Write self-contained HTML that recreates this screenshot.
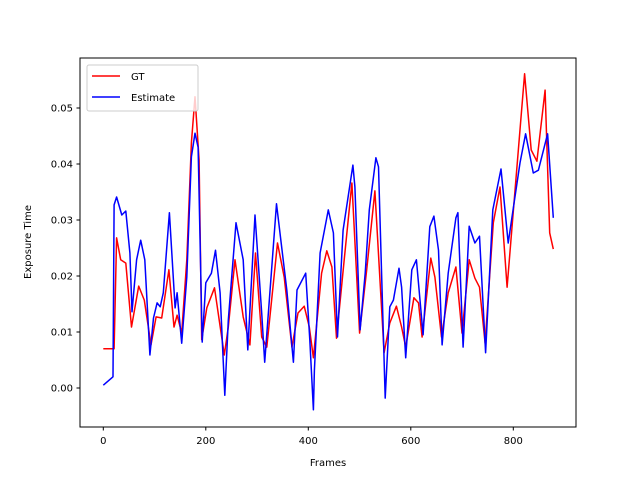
<!DOCTYPE html>
<html><head><meta charset="utf-8"><style>
body{margin:0;background:#fff;font-family:"Liberation Sans","DejaVu Sans",sans-serif}
svg text{font-family:"DejaVu Sans","Liberation Sans",sans-serif;font-size:10px}
</style></head><body>
<svg id="chart" width="640" height="480" viewBox="0 0 640 480" xmlns="http://www.w3.org/2000/svg">
<rect width="640" height="480" fill="#fff"/>
<g id="series"></g>
<rect x="80" y="58" width="496" height="369" fill="none" stroke="#000" stroke-width="1"/>
<g id="axes"></g>
<text x="328" y="466" text-anchor="middle">Frames</text>
<text x="31" y="242" text-anchor="middle" transform="rotate(-90 31 242)">Exposure Time</text>
<g>
<rect x="87" y="65" width="111" height="46" rx="2" fill="#fff" fill-opacity="0.8" stroke="#ccc"/>
<line x1="92" y1="76" x2="120" y2="76" stroke="#f00" stroke-width="1.5"/>
<text x="131" y="80">GT</text>
<line x1="92" y1="97" x2="120" y2="97" stroke="#00f" stroke-width="1.5"/>
<text x="131" y="101">Estimate</text>
</g>
</svg>
<script>
const gtFrames=[0,20,21,26,34,44,55,69,80,93,103,114,128,138,144,153,163,172,179,187,192,202,217,236,244,257,273,286,297,309,319,340,353,368,380,392,402,410,426,436,446,455,470,485,500,514,530,548,559,572,582,590,606,615,622,639,647,660,673,688,700,714,725,734,745,761,774,788,803,822,835,846,862,871,878];
const gtValues=[0.0070,0.0070,0.0070,0.0268,0.0229,0.0223,0.0109,0.0182,0.0157,0.0077,0.0127,0.0125,0.0211,0.0109,0.0130,0.0098,0.0229,0.0438,0.0520,0.0407,0.0086,0.0143,0.0179,0.0059,0.0109,0.0229,0.0127,0.0077,0.0241,0.0091,0.0073,0.0259,0.0198,0.0073,0.0134,0.0146,0.0109,0.0054,0.0205,0.0245,0.0216,0.0089,0.0229,0.0366,0.0098,0.0211,0.0352,0.0063,0.0116,0.0146,0.0109,0.0073,0.0161,0.0152,0.0091,0.0232,0.0198,0.0091,0.0170,0.0216,0.0098,0.0229,0.0196,0.0180,0.0080,0.0295,0.0359,0.0180,0.0348,0.0561,0.0425,0.0405,0.0532,0.0277,0.0248];
const estFrames=[0,19,21,26,36,44,52,56,65,73,81,91,98,105,111,117,129,140,144,153,163,172,179,185,193,200,211,219,228,237,244,259,273,282,296,309,315,338,358,371,378,395,403,410,412,423,439,449,457,468,487,491,501,511,519,532,537,550,559,566,577,582,590,602,611,624,637,645,654,661,673,688,692,702,714,725,734,746,760,776,790,800,813,824,839,849,867,878];
const estValues=[0.0005,0.0020,0.0327,0.0341,0.0309,0.0316,0.0241,0.0136,0.0229,0.0264,0.0229,0.0059,0.0125,0.0152,0.0145,0.0170,0.0313,0.0143,0.0170,0.0080,0.0198,0.0413,0.0455,0.0430,0.0082,0.0188,0.0205,0.0246,0.0170,-0.0013,0.0121,0.0295,0.0229,0.0068,0.0309,0.0134,0.0046,0.0329,0.0175,0.0046,0.0175,0.0205,0.0086,-0.0039,0.0032,0.0241,0.0318,0.0277,0.0091,0.0282,0.0398,0.0359,0.0104,0.0205,0.0318,0.0411,0.0395,-0.0018,0.0145,0.0157,0.0214,0.0180,0.0054,0.0211,0.0229,0.0095,0.0288,0.0307,0.0246,0.0077,0.0205,0.0304,0.0313,0.0073,0.0289,0.0259,0.0271,0.0063,0.0318,0.0391,0.0259,0.0321,0.0402,0.0454,0.0384,0.0389,0.0454,0.0304];
const xTicks=[0,200,400,600,800];
const yTicks=[0,0.01,0.02,0.03,0.04,0.05];
const yTickLabels=["0.00","0.01","0.02","0.03","0.04","0.05"];

const NS="http://www.w3.org/2000/svg";
function xs(f){return 103.3+f*0.5125;}
function ys(v){return 388-v*5600;}
const series=document.getElementById('series');
function drawLine(fr,vals,color,name){
  const p=document.createElementNS(NS,'polyline');
  p.setAttribute('points',fr.map((f,i)=>xs(f).toFixed(1)+','+ys(vals[i]).toFixed(1)).join(' '));
  p.setAttribute('fill','none');p.setAttribute('stroke',color);p.setAttribute('stroke-width','1.5');
  p.setAttribute('stroke-linejoin','round');
  
  
  series.appendChild(p);
}
drawLine(gtFrames,gtValues,'#f00','gt-line');
drawLine(estFrames,estValues,'#00f','estimate-line');
const axes=document.getElementById('axes');
xTicks.forEach(t=>{
  const x=xs(t);
  const l=document.createElementNS(NS,'line');
  l.setAttribute('x1',x);l.setAttribute('x2',x);l.setAttribute('y1',427);l.setAttribute('y2',430.5);l.setAttribute('stroke','#000');
  
  
  axes.appendChild(l);
  const tx=document.createElementNS(NS,'text');
  tx.setAttribute('x',x);tx.setAttribute('y',444);tx.setAttribute('text-anchor','middle');tx.textContent=t;
  
  
  axes.appendChild(tx);
});
yTicks.forEach((t,i)=>{
  const y=ys(t);
  const l=document.createElementNS(NS,'line');
  l.setAttribute('x1',76.5);l.setAttribute('x2',80);l.setAttribute('y1',y);l.setAttribute('y2',y);l.setAttribute('stroke','#000');
  
  
  axes.appendChild(l);
  const tx=document.createElementNS(NS,'text');
  tx.setAttribute('x',73);tx.setAttribute('y',y+3.5);tx.setAttribute('text-anchor','end');tx.textContent=yTickLabels[i];
  
  
  axes.appendChild(tx);
});
</script>
</body></html>
